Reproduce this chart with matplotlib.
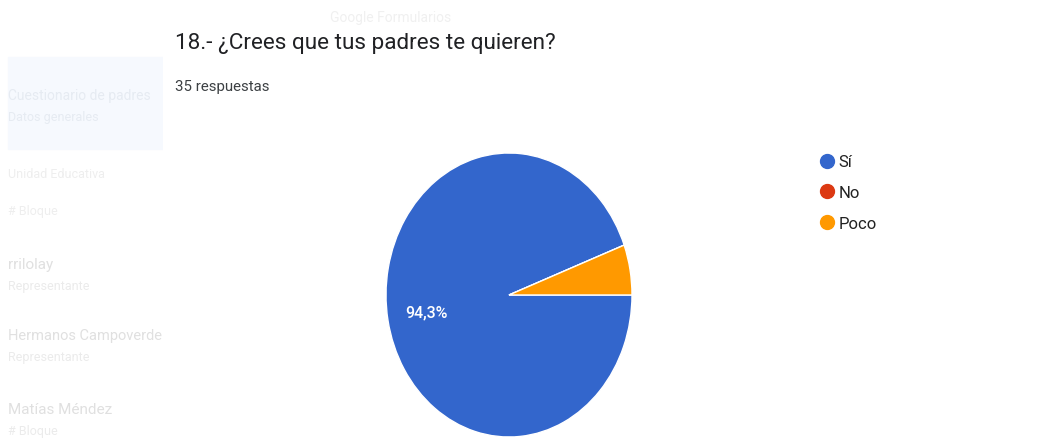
import matplotlib.pyplot as plt
from matplotlib.lines import Line2D

# Respuestas del formulario
labels = ['Sí', 'No', 'Poco']
counts = [33, 0, 2]
colors = ['#3366CC', '#DC3912', '#FF9900']

title = '18.- ¿Crees que tus padres te quieren?'
subtitle = f'{sum(counts)} respuestas'

# texto apagado de la barra lateral (casi ilegible en la captura)
side_lines = [
    ('Cuestionario de padres', 96, 10, '#e6ebf2'),
    ('Datos generales', 118, 9, '#e6ebf2'),
    ('Unidad Educativa', 175, 9, '#eeeeee'),
    ('# Bloque', 212, 9, '#eeeeee'),
    ('rrilolay', 265, 11, '#e0e0e0'),
    ('Representante', 287, 9, '#ebebeb'),
    ('Hermanos Campoverde', 336, 10.5, '#e0e0e0'),
    ('Representante', 358, 9, '#ebebeb'),
    ('Matías Méndez', 410, 11, '#e0e0e0'),
    ('# Bloque', 432, 9, '#ebebeb'),
]

plt.rcParams['font.family'] = ['Roboto', 'DejaVu Sans']

W, H = 1063, 439
fig = plt.figure(figsize=(W / 100, H / 100), dpi=100)
fig.patch.set_facecolor('white')

# barra lateral apagada
side = fig.add_axes([0, 0, 163 / W, 1])
side.set_xlim(0, 163)
side.set_ylim(H, 0)
side.axis('off')
side.add_patch(plt.Rectangle((8, 58), 160, 92, color='#f6f9fe', zorder=0))
for txt, y, size, col in side_lines:
    side.text(8, y, txt, fontsize=size, color=col, va='center', ha='left', clip_on=True)

fig.text(330 / W, 1 - 18 / H, 'Google Formularios', fontsize=10, color='#f0f0f0', va='center')

# titulo y numero de respuestas
fig.text(175 / W, 1 - 44 / H, title, fontsize=16.2, color='#202124', va='center', ha='left')
fig.text(175 / W, 1 - 87 / H, subtitle, fontsize=10.8, color='#3c4043', va='center', ha='left')

# pastel (ligeramente ovalado como en la captura)
cx, cy, rx, ry = 509, 296, 123, 142
ax = fig.add_axes([(cx - rx) / W, 1 - (cy + ry) / H, 2 * rx / W, 2 * ry / H])


def pct(p):
    return f'{p:.1f}%'.replace('.', ',') if p > 10 else ''


wedges, texts, autotexts = ax.pie(
    counts, colors=colors, startangle=0, counterclock=False,
    autopct=pct, pctdistance=0.68,
    wedgeprops=dict(edgecolor='white', linewidth=1),
    textprops=dict(color='white', fontsize=11.5, fontweight='medium'),
)
ax.set_aspect('auto')
ax.set_xlim(-1, 1)
ax.set_ylim(-1, 1)

# leyenda con circulos
handles = [Line2D([0], [0], marker='o', linestyle='', markersize=10,
                  markerfacecolor=c, markeredgecolor=c) for c in colors]
fig.legend(handles, labels, loc='upper left', bbox_to_anchor=(810 / W, 1 - 147 / H),
           frameon=False, fontsize=12, labelspacing=0.95, handletextpad=0.2,
           handlelength=1.0, borderpad=0, labelcolor='#222222')

fig.savefig('out.png', dpi=100, facecolor='white')
